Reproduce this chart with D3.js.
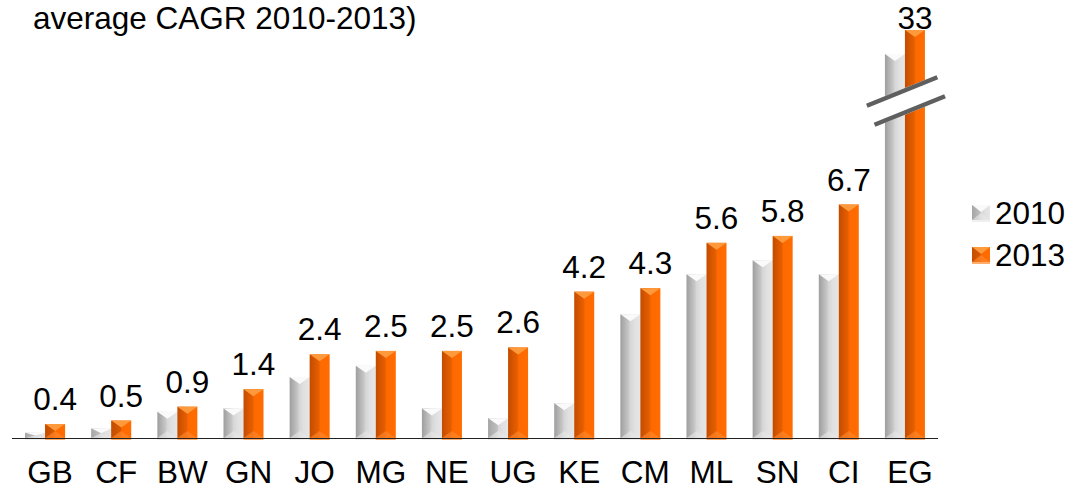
<!DOCTYPE html>
<html>
<head>
<meta charset="utf-8">
<script src="https://cdn.jsdelivr.net/npm/d3@7"></script>
<style>
  html, body { margin: 0; padding: 0; background: #fff; }
  svg { display: block; font-family: "Liberation Sans", Arial, Helvetica, sans-serif; }
</style>
</head>
<body>
<svg id="chart" width="1068" height="489"></svg>
<script>
// ---- data ----
const categories = ["GB","CF","BW","GN","JO","MG","NE","UG","KE","CM","ML","SN","CI","EG"];
const values2010 = [0.15, 0.27, 0.75, 0.85, 1.75, 2.07, 0.85, 0.57, 1.0, 3.55, 4.7, 5.1, 4.7, 25];
const values2013 = [0.4, 0.5, 0.9, 1.4, 2.4, 2.5, 2.5, 2.6, 4.2, 4.3, 5.6, 5.8, 6.7, 33];
const labels2013 = ["0.4","0.5","0.9","1.4","2.4","2.5","2.5","2.6","4.2","4.3","5.6","5.8","6.7","33"];
const seriesNames = ["2010", "2013"];
const titleText = "average CAGR 2010-2013)";

// ---- layout ----
const baseY = 438;
const FS = 31.5;
const svg = d3.select("#chart");
const defs = svg.append("defs");

const x = d3.scaleBand().domain(categories).range([12, 938]).padding(0);
// broken axis: linear up to the break, compressed above it
const y = d3.scaleLinear().domain([0, 9.7, 33]).range([baseY, 100, 30]);
const barW = 20;

function hGrad(id, stops) {
  const g = defs.append("linearGradient").attr("id", id)
    .attr("x1", "0%").attr("x2", "100%").attr("y1", "0%").attr("y2", "0%");
  stops.forEach(s => g.append("stop").attr("offset", s[0]).attr("stop-color", s[1]));
}
hGrad("gGray", [["0%", "#9e9e9e"], ["40%", "#c6c6c6"], ["50%", "#d6d6d6"], ["70%", "#e0e0e0"], ["100%", "#e6e6e6"]]);
hGrad("gOrange", [["0%", "#c24c00"], ["25%", "#d75600"], ["45%", "#e55e00"], ["55%", "#ff6a00"], ["100%", "#ff6c00"]]);

const styles = {
  "2010": { fill: "url(#gGray)", top: "#fafafa", bottom: "#e8e8e8", side: "#b0b0b0" },
  "2013": { fill: "url(#gOrange)", top: "#ff9a3c", bottom: "#ff8a30", side: "#c65000" }
};

function bevelBar(g, bx, by, w, h, st) {
  g.append("rect").attr("x", bx).attr("y", by).attr("width", w).attr("height", h).attr("fill", st.fill);
  const d = Math.min(7, h / 2, w / 2);
  g.append("polygon")
    .attr("points", [[bx, by], [bx + w, by], [bx + w / 2, by + d]].map(p => p.join(",")).join(" "))
    .attr("fill", st.top);
  if (h < 20) {
    g.append("polygon")
      .attr("points", [[bx, by], [bx + w / 2, by + d], [bx + w / 2, by + h - d], [bx, by + h]].map(p => p.join(",")).join(" "))
      .attr("fill", st.side).attr("opacity", 0.45);
  }
  g.append("polygon")
    .attr("points", [[bx, by + h], [bx + w, by + h], [bx + w / 2, by + h - d]].map(p => p.join(",")).join(" "))
    .attr("fill", st.bottom).attr("opacity", 0.6);
  g.append("rect").attr("x", bx).attr("y", by + h).attr("width", w).attr("height", 2)
    .attr("fill", st.bottom).attr("opacity", 0.7);
}

// title
svg.append("text").attr("x", 33).attr("y", 29).attr("font-size", FS).attr("fill", "#000").text(titleText);

// bars
const barsG = svg.append("g");
categories.forEach((c, i) => {
  const cx = x(c) + x.bandwidth() / 2;
  const g = barsG.append("g");
  const t1 = y(values2010[i]);
  bevelBar(g, cx - barW, t1, barW, baseY - t1, styles["2010"]);
  const t2 = y(values2013[i]);
  bevelBar(g, cx, t2, barW, baseY - t2, styles["2013"]);
});

// axis line
svg.append("line").attr("x1", 12).attr("x2", 938).attr("y1", baseY + 0.5).attr("y2", baseY + 0.5)
  .attr("stroke", "#222").attr("stroke-width", 1.2);

// value labels (2013)
categories.forEach((c, i) => {
  const cx = x(c) + x.bandwidth() / 2 + barW / 2;
  const top = y(values2013[i]);
  svg.append("text").attr("x", cx).attr("y", Math.max(top - 14, 29))
    .attr("text-anchor", "middle").attr("font-size", FS).attr("fill", "#000").text(labels2013[i]);
});

// break symbol on EG
const egX = x("EG") + x.bandwidth() / 2;
const brk = svg.append("g").attr("transform", `translate(${egX + 1},101) rotate(-22)`);
brk.append("rect").attr("x", -38).attr("y", -12.5).attr("width", 76).attr("height", 25).attr("fill", "#fff");
brk.append("rect").attr("x", -38).attr("y", -12.5).attr("width", 76).attr("height", 4.5).attr("fill", "#5f5f5f");
brk.append("rect").attr("x", -38).attr("y", 8).attr("width", 76).attr("height", 4.5).attr("fill", "#5f5f5f");

// category labels
svg.append("g").selectAll("text").data(categories).join("text")
  .attr("x", d => x(d) + x.bandwidth() / 2 + 5)
  .attr("y", 483)
  .attr("text-anchor", "middle").attr("font-size", FS).attr("fill", "#000")
  .text(d => d);

// legend
const leg = svg.append("g");
seriesNames.forEach((s, i) => {
  const ly = 213 + i * 42;
  const g = leg.append("g");
  bevelBar(g, 972, ly - 8, 18, 15, styles[s]);
  g.append("text").attr("x", 995).attr("y", ly + 11).attr("font-size", FS).attr("fill", "#000").text(s);
});
</script>
</body>
</html>
